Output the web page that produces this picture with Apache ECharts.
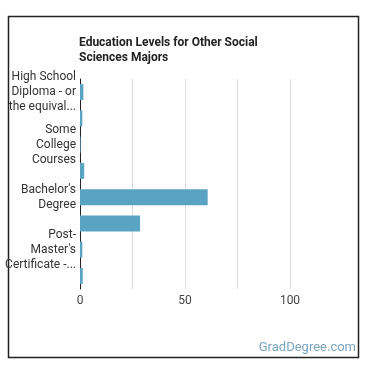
<!DOCTYPE html>
<html>
<head>
<meta charset="utf-8">
<script src="https://cdn.jsdelivr.net/npm/echarts@6/dist/echarts.min.js"></script>
<style>
  html, body { margin: 0; padding: 0; background: #fff; }
  #chart { width: 370px; height: 370px; }
</style>
</head>
<body>
<div id="chart"></div>
<script>
// education levels, top to bottom
const categories = [
  'High School Diploma - or the equivalent (for example, GED)',
  'Post-Secondary Certificate',
  'Some College Courses',
  "Associate's Degree",
  "Bachelor's Degree",
  "Master's Degree",
  "Post-Master's Certificate - awarded for completion of an organized program of study",
  'Doctoral Degree'
]
const percents = [1.6, 1.1, 0.3, 2.0, 60.8, 28.6, 1.1, 1.3]
const xTicks = [0, 50, 100]

const labelFont = '12px Roboto'
const ctx = document.createElement('canvas').getContext('2d')
ctx.font = labelFont

// wrap a label into at most 3 lines of ~70px, ellipsis on the last one
function wrapLabel(text) {
  const maxW = 70
  const words = text.replace(/-(\S)/g, '- $1').split(' ')
  const lines = []
  let cur = ''
  for (let i = 0; i < words.length; i++) {
    const w = words[i]
    const joined = cur === '' ? w : (cur.endsWith('-') && !cur.endsWith(' -') ? cur + w : cur + ' ' + w)
    if (ctx.measureText(joined).width <= maxW || cur === '') {
      cur = joined
    } else {
      lines.push(cur)
      cur = w
    }
  }
  if (cur) lines.push(cur)
  if (lines.length > 3) {
    let last = lines[2] + ' ' + lines[3]
    while (ctx.measureText(last + '...').width > maxW + 2 && last.length > 1) {
      last = last.slice(0, -1)
    }
    lines.length = 2
    lines.push(last.trimEnd() + '...')
  }
  return lines.join('\n')
}

const chart = echarts.init(document.getElementById('chart'))
chart.setOption({
  animation: false,
  title: {
    text: 'Education Levels for Other Social\nSciences Majors',
    left: 79,
    top: 35,
    padding: 0,
    textStyle: {
      fontFamily: 'Roboto',
      fontSize: 12,
      fontWeight: 'bold',
      color: '#222',
      lineHeight: 15
    }
  },
  graphic: [
    {
      type: 'rect',
      shape: { x: 8.5, y: 16.5, width: 350, height: 341 },
      style: { fill: 'none', stroke: '#222', lineWidth: 1.5 }
    },
    {
      type: 'text',
      right: 14,
      top: 341,
      style: {
        text: 'GradDegree.com',
        font: '13px Roboto',
        fill: '#7ba4bd'
      }
    }
  ],
  grid: {
    left: 80,
    top: 79,
    width: 210,
    height: 210
  },
  xAxis: {
    type: 'value',
    min: 0,
    max: 100,
    interval: 25,
    axisLine: { show: false },
    axisTick: { show: false },
    splitLine: { lineStyle: { color: '#ddd' } },
    axisLabel: {
      margin: 6,
      fontFamily: 'Roboto',
      fontSize: 12,
      color: '#444',
      formatter: v => (xTicks.indexOf(v) >= 0 ? String(v) : '')
    }
  },
  yAxis: {
    type: 'category',
    inverse: true,
    data: categories,
    axisLine: { lineStyle: { color: '#222', width: 1 } },
    axisTick: { show: false },
    axisLabel: {
      interval: 1,
      margin: 4,
      fontFamily: 'Roboto',
      fontSize: 12,
      lineHeight: 15,
      color: '#333',
      align: 'right',
      formatter: v => wrapLabel(v)
    }
  },
  series: [{
    type: 'bar',
    data: percents,
    barWidth: 16,
    itemStyle: { color: '#5aa3c3' }
  }]
})
</script>
</body>
</html>
